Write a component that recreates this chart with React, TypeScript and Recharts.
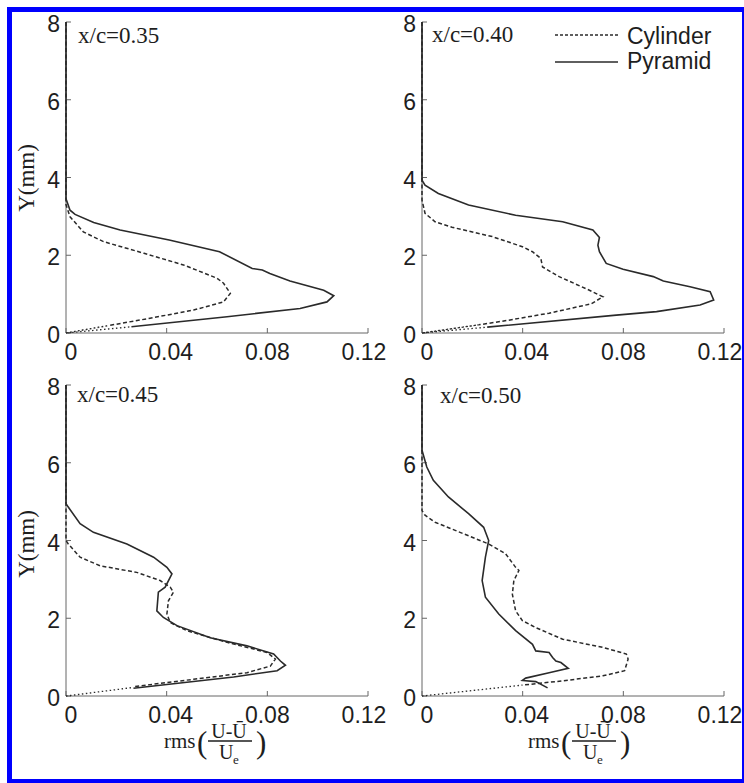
import { ScatterChart, Scatter, XAxis, YAxis } from "recharts";

// rms(U-Ū)/Ue (u) vs wall distance Y in mm
type Pt = { u: number; y: number };
const pts = (pairs: number[][]): Pt[] => pairs.map(([u, y]) => ({ u, y }));

const xTicks = [0, 0.04, 0.08, 0.12];
const yTicks = [0, 2, 4, 6, 8];
const stations = ["x/c=0.35", "x/c=0.40", "x/c=0.45", "x/c=0.50"];

const cyl35 = pts([[0, 8], [0, 3.3], [0.0016, 2.99], [0.0069, 2.6], [0.0149, 2.35], [0.031, 2.05], [0.0467, 1.75], [0.06, 1.41], [0.0626, 1.28], [0.0653, 1.02], [0.0626, 0.8], [0.0507, 0.59], [0.0334, 0.38], [0.0168, 0.19]]);
const pyr35 = pts([[0, 8], [0, 3.45], [0.0016, 3.16], [0.0036, 3.05], [0.011, 2.84], [0.0215, 2.65], [0.041, 2.39], [0.061, 2.09], [0.074, 1.66], [0.078, 1.62], [0.081, 1.53], [0.089, 1.34], [0.1024, 1.1], [0.1064, 0.96], [0.1037, 0.8], [0.093, 0.63], [0.064, 0.42], [0.026, 0.16]]);
const near35 = pts([[0, 0], [0.0168, 0.19], [0, 0], [0.026, 0.16]]);

const cyl40 = pts([[0, 8], [0, 3.42], [0.0012, 3.08], [0.0052, 2.86], [0.0119, 2.72], [0.0279, 2.48], [0.0399, 2.22], [0.0439, 2.09], [0.0472, 1.92], [0.0479, 1.7], [0.0545, 1.45], [0.0665, 1.1], [0.0719, 0.93], [0.0672, 0.75], [0.0505, 0.51], [0.0345, 0.33], [0.0225, 0.21]]);
const pyr40 = pts([[0, 8], [0, 3.93], [0.0012, 3.8], [0.0065, 3.59], [0.0185, 3.29], [0.0372, 3.03], [0.0559, 2.86], [0.0679, 2.65], [0.0705, 2.46], [0.0699, 2.26], [0.0705, 2.09], [0.0732, 1.79], [0.0799, 1.64], [0.0919, 1.45], [0.0959, 1.34], [0.1065, 1.19], [0.1145, 1.06], [0.1159, 0.85], [0.1105, 0.72], [0.0932, 0.55], [0.0772, 0.46], [0.0259, 0.15]]);
const near40 = pts([[0, 0], [0.0225, 0.21], [0, 0], [0.0259, 0.15]]);

const cyl45 = pts([[0, 8], [0, 4.0], [0.0009, 3.91], [0.0056, 3.57], [0.0135, 3.35], [0.0281, 3.18], [0.0374, 2.97], [0.0414, 2.8], [0.0427, 2.67], [0.0407, 2.45], [0.0401, 2.11], [0.0414, 1.89], [0.048, 1.68], [0.064, 1.38], [0.0799, 1.12], [0.0832, 0.95], [0.0812, 0.77], [0.0719, 0.6], [0.0507, 0.43], [0.0268, 0.24]]);
const pyr45 = pts([[0, 8], [0, 4.95], [0.0009, 4.86], [0.0056, 4.43], [0.0109, 4.21], [0.0242, 3.91], [0.0348, 3.57], [0.0401, 3.31], [0.0421, 3.14], [0.0394, 2.8], [0.0367, 2.67], [0.0361, 2.19], [0.0387, 2.02], [0.0441, 1.81], [0.0573, 1.5], [0.0719, 1.29], [0.0825, 1.08], [0.0852, 0.9], [0.0872, 0.79], [0.0839, 0.65], [0.0666, 0.49], [0.0268, 0.2]]);
const near45 = pts([[0, 0], [0.0268, 0.22]]);

const cyl50 = pts([[0, 8], [0, 4.77], [0.0012, 4.65], [0.0052, 4.47], [0.0132, 4.26], [0.0265, 3.91], [0.0332, 3.66], [0.0372, 3.31], [0.0385, 3.23], [0.0365, 2.97], [0.0359, 2.62], [0.0372, 2.19], [0.0399, 1.94], [0.0452, 1.76], [0.0559, 1.46], [0.0719, 1.25], [0.0812, 1.08], [0.0819, 0.95], [0.0805, 0.65], [0.0719, 0.52], [0.0559, 0.39], [0.0399, 0.28]]);
const pyr50 = pts([[0, 8], [0, 6.32], [0.0019, 5.89], [0.0045, 5.55], [0.0105, 5.12], [0.0185, 4.69], [0.0245, 4.34], [0.0265, 4.0], [0.0252, 3.57], [0.0239, 2.97], [0.0252, 2.54], [0.0305, 2.11], [0.0372, 1.68], [0.0439, 1.33], [0.0452, 1.16], [0.0505, 1.12], [0.0519, 0.99], [0.0532, 0.9], [0.0552, 0.86], [0.0581, 0.71], [0.0505, 0.6], [0.0412, 0.46], [0.0399, 0.4], [0.0452, 0.37], [0.0499, 0.21]]);
const near50 = pts([[0, 0], [0.0399, 0.28]]);

const SANS = "'Liberation Sans', Arial, sans-serif";
const SERIF = "'Liberation Serif', 'Times New Roman', serif";
const INK = "#2a2a2a";
const TXT = "#1e1e1e";

const noDot = () => <g />;
const fmtX = (v: number) => (v === 0 ? "0" : v.toFixed(2));
// matlab-ish label placement: labels drift left along the axis
const xNudge = [5, 4, 0, -4];

function XTick(props: any) {
  const { x, y, payload, index } = props;
  return (
    <text x={x + (xNudge[index] ?? 0)} y={y + 17} textAnchor="middle" fontSize={23} fontFamily={SANS} fill={TXT}>
      {fmtX(payload.value)}
    </text>
  );
}

function Panel({ left, top, cyl, pyr, near }: { left: number; top: number; cyl: Pt[]; pyr: Pt[]; near: Pt[] }) {
  return (
    <div style={{ position: "absolute", left, top }}>
      <ScatterChart width={400} height={373} margin={{ top: 22, right: 32, bottom: 10, left: 16 }}>
        <XAxis
          type="number"
          dataKey="u"
          domain={[0, 0.12]}
          ticks={xTicks}
          tickSize={-5}
          tickMargin={15}
          height={30}
          stroke="#666"
          tick={<XTick />}
        />
        <YAxis
          type="number"
          dataKey="y"
          domain={[0, 8]}
          ticks={yTicks}
          tickSize={-5}
          tickMargin={11}
          width={50}
          stroke="#666"
          tick={{ fill: TXT, fontSize: 23, fontFamily: SANS, dy: 2 }}
        />
        <Scatter data={near} shape={noDot} isAnimationActive={false} line={{ stroke: INK, strokeWidth: 1.3, strokeDasharray: "1.5 2.5" }} />
        <Scatter data={cyl} shape={noDot} isAnimationActive={false} line={{ stroke: INK, strokeWidth: 1.5, strokeDasharray: "4 2.5" }} />
        <Scatter data={pyr} shape={noDot} isAnimationActive={false} line={{ stroke: INK, strokeWidth: 1.6 }} />
      </ScatterChart>
    </div>
  );
}

function XLabel({ dx }: { dx: number }) {
  return (
    <g transform={`translate(${dx},0)`} fill={TXT} fontFamily={SERIF}>
      <text x={164} y={748} fontSize={21}>rms</text>
      <text x={197} y={753} fontSize={31}>(</text>
      <text x={229} y={738} fontSize={20} textAnchor="middle">U-Ū</text>
      <line x1={208} x2={252} y1={741} y2={741} stroke={TXT} strokeWidth={1.3} />
      <text x={219} y={759} fontSize={20}>U</text>
      <text x={233} y={764} fontSize={13}>e</text>
      <text x={256} y={753} fontSize={31}>)</text>
    </g>
  );
}

export default function App() {
  return (
    <div style={{ position: "absolute", left: 0, top: 0, width: 744, height: 783, background: "#fff", overflow: "hidden" }}>
      <Panel left={0} top={0} cyl={cyl35} pyr={pyr35} near={near35} />
      <Panel left={356} top={0} cyl={cyl40} pyr={pyr40} near={near40} />
      <Panel left={0} top={363} cyl={cyl45} pyr={pyr45} near={near45} />
      <Panel left={356} top={363} cyl={cyl50} pyr={pyr50} near={near50} />
      <svg width={744} height={783} style={{ position: "absolute", left: 0, top: 0, pointerEvents: "none" }}>
        <text x={78} y={43} fontSize={23} fontFamily={SERIF} fill={TXT}>{stations[0]}</text>
        <text x={432} y={42} fontSize={23} fontFamily={SERIF} fill={TXT}>{stations[1]}</text>
        <text x={77} y={402} fontSize={23} fontFamily={SERIF} fill={TXT}>{stations[2]}</text>
        <text x={440} y={403} fontSize={23} fontFamily={SERIF} fill={TXT}>{stations[3]}</text>
        <text x={34} y={178} fontSize={23} fontFamily={SERIF} fill={TXT} textAnchor="middle" transform="rotate(-90,34,178)">Y(mm)</text>
        <text x={34} y={544} fontSize={23} fontFamily={SERIF} fill={TXT} textAnchor="middle" transform="rotate(-90,34,544)">Y(mm)</text>
        <line x1={555} x2={618} y1={35} y2={35} stroke={INK} strokeWidth={1.3} strokeDasharray="3 2" />
        <text x={627} y={44} fontSize={23} fontFamily={SANS} fill={TXT}>Cylinder</text>
        <line x1={555} x2={618} y1={62} y2={62} stroke={INK} strokeWidth={1.5} />
        <text x={627} y={69} fontSize={23} fontFamily={SANS} fill={TXT}>Pyramid</text>
        <XLabel dx={0} />
        <XLabel dx={364} />
      </svg>
      <div style={{ position: "absolute", left: 7, top: 7, width: 740, height: 777, border: "5px solid #0000ff", boxSizing: "border-box" }} />
    </div>
  );
}
